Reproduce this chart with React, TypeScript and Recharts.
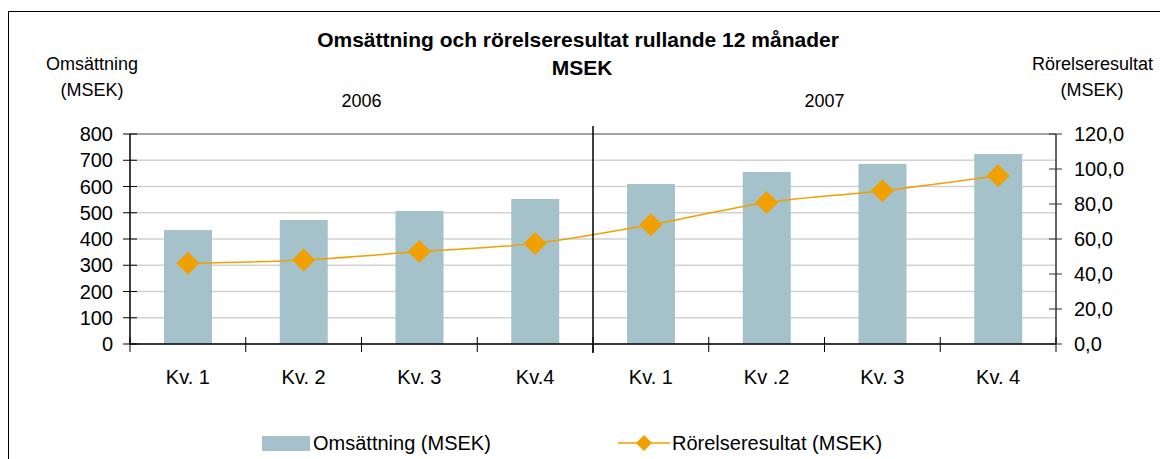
import React from 'react';
import { ComposedChart, Bar, Line, XAxis, YAxis, CartesianGrid, ReferenceLine } from 'recharts';

const quarters = ['Kv. 1', 'Kv. 2', 'Kv. 3', 'Kv.4', 'Kv. 1', 'Kv .2', 'Kv. 3', 'Kv. 4'];
const years = ['2006', '2007'];
const omsattning = [434, 472, 507, 552, 610, 655, 686, 724];
const rorelseresultat = [46.1, 48.0, 52.8, 57.5, 68.2, 80.8, 87.6, 96.2];
const leftTicks = [0, 100, 200, 300, 400, 500, 600, 700, 800];
const rightTicks = [0, 20, 40, 60, 80, 100, 120];

const data = quarters.map((q, i) => ({
  quarter: q,
  oms: omsattning[i],
  ror: rorelseresultat[i],
}));

// layout
const W = 1160;
const H = 459;
const LEFT_W = 130;
const RIGHT_W = 104;
const PLOT_TOP = 134;
const PLOT_BOTTOM = 344;
const BAND = (W - LEFT_W - RIGHT_W) / quarters.length;
const FONT = '"Liberation Sans", Arial, sans-serif';
const BAR_COLOR = '#A5C1CA';
const LINE_COLOR = '#F0A000';

const XTick = (props: any) => {
  const { x, index, payload } = props;
  const left = x - BAND / 2;
  const right = x + BAND / 2;
  return (
    <g>
      <line x1={left} x2={left} y1={PLOT_BOTTOM - 7} y2={PLOT_BOTTOM + 8} stroke="#000" />
      {index === quarters.length - 1 && (
        <line x1={right} x2={right} y1={PLOT_BOTTOM - 7} y2={PLOT_BOTTOM + 8} stroke="#000" />
      )}
      {index === 4 && (
        <line x1={left} x2={left} y1={PLOT_TOP - 8} y2={PLOT_BOTTOM + 9} stroke="#000" strokeWidth={1.5} />
      )}
      {index % 4 === 1 && (
        <text x={right} y={101} dy="0.35em" textAnchor="middle" fontSize={18} fontFamily={FONT} fill="#000">
          {years[Math.floor(index / 4)]}
        </text>
      )}
      <text x={x} y={377} dy="0.35em" textAnchor="middle" fontSize={20} fontFamily={FONT} fill="#000">
        {payload.value}
      </text>
    </g>
  );
};

const LeftTick = (props: any) => {
  const { y, payload } = props;
  return (
    <g>
      <line x1={LEFT_W - 7} x2={LEFT_W + 7} y1={y} y2={y} stroke="#000" />
      <text x={LEFT_W - 17} y={y} dy="0.35em" textAnchor="end" fontSize={20} fontFamily={FONT} fill="#000">
        {payload.value}
      </text>
    </g>
  );
};

const RightTick = (props: any) => {
  const { y, payload } = props;
  const ax = W - RIGHT_W;
  return (
    <g>
      <line x1={ax - 7} x2={ax + 6} y1={y} y2={y} stroke="#333" />
      <text x={ax + 18} y={y} dy="0.35em" textAnchor="start" fontSize={20} fontFamily={FONT} fill="#000">
        {payload.value.toFixed(1).replace('.', ',')}
      </text>
    </g>
  );
};

const Diamond = (props: any) => {
  const { cx, cy } = props;
  const r = 11.5;
  return (
    <polygon
      points={`${cx},${cy - r} ${cx + r},${cy} ${cx},${cy + r} ${cx - r},${cy}`}
      fill={LINE_COLOR}
    />
  );
};

const App: React.FC = () => {
  return (
    <div style={{ position: 'absolute', left: 0, top: 0, width: W, height: H, overflow: 'hidden', background: '#fff', fontFamily: FONT }}>
      <div style={{ position: 'absolute', left: 8, top: 11, width: 1200, height: 500, borderTop: '1.5px solid #000', borderLeft: '1.5px solid #000' }} />
      <div style={{ position: 'absolute', left: 0, top: 26, width: W - 0, textAlign: 'center', fontWeight: 'bold', fontSize: 21, lineHeight: '28px' }}>
        <div style={{ marginLeft: -4 }}>Omsättning och rörelseresultat rullande 12 månader</div>
        <div style={{ marginLeft: 4 }}>MSEK</div>
      </div>
      <div style={{ position: 'absolute', left: 32, top: 51, width: 120, textAlign: 'center', fontSize: 18, lineHeight: '26px' }}>
        <div>Omsättning</div>
        <div>(MSEK)</div>
      </div>
      <div style={{ position: 'absolute', left: 1032, top: 51, width: 120, textAlign: 'center', fontSize: 18, lineHeight: '26px' }}>
        <div>Rörelseresultat</div>
        <div>(MSEK)</div>
      </div>
      <ComposedChart
        width={W}
        height={H}
        data={data}
        margin={{ top: PLOT_TOP, right: 0, bottom: H - PLOT_BOTTOM - 30, left: 0 }}
      >
        <CartesianGrid yAxisId="left" vertical={false} stroke="#D2D2D2" strokeWidth={1.5} />
        <XAxis
          dataKey="quarter"
          height={30}
          interval={0}
          tickLine={false}
          tick={<XTick />}
          axisLine={{ stroke: '#000', strokeWidth: 1.5 }}
        />
        <YAxis
          yAxisId="left"
          width={LEFT_W}
          domain={[0, 800]}
          ticks={leftTicks}
          tickLine={false}
          tick={<LeftTick />}
          axisLine={{ stroke: '#000', strokeWidth: 1.5 }}
        />
        <YAxis
          yAxisId="right"
          orientation="right"
          width={RIGHT_W}
          domain={[0, 120]}
          ticks={rightTicks}
          tickLine={false}
          tick={<RightTick />}
          axisLine={{ stroke: '#333', strokeWidth: 1.5 }}
        />
        <ReferenceLine yAxisId="left" y={800} stroke="#8C8C8C" strokeWidth={1.5} />
        <Bar yAxisId="left" dataKey="oms" fill={BAR_COLOR} barSize={48} isAnimationActive={false} />
        <Line
          yAxisId="right"
          type="monotone"
          dataKey="ror"
          stroke={LINE_COLOR}
          strokeWidth={1.5}
          dot={<Diamond />}
          activeDot={false}
          isAnimationActive={false}
        />
      </ComposedChart>
      <div style={{ position: 'absolute', left: 262, top: 436, width: 48, height: 15, background: BAR_COLOR }} />
      <div style={{ position: 'absolute', left: 313, top: 431, fontSize: 20, lineHeight: '24px' }}>Omsättning (MSEK)</div>
      <svg style={{ position: 'absolute', left: 618, top: 432 }} width={52} height={22}>
        <line x1={0} x2={52} y1={11} y2={11} stroke={LINE_COLOR} strokeWidth={1.5} />
        <polygon points="26,3 34,11 26,19 18,11" fill={LINE_COLOR} />
      </svg>
      <div style={{ position: 'absolute', left: 672, top: 431, fontSize: 20, lineHeight: '24px' }}>Rörelseresultat (MSEK)</div>
    </div>
  );
};

export default App;
